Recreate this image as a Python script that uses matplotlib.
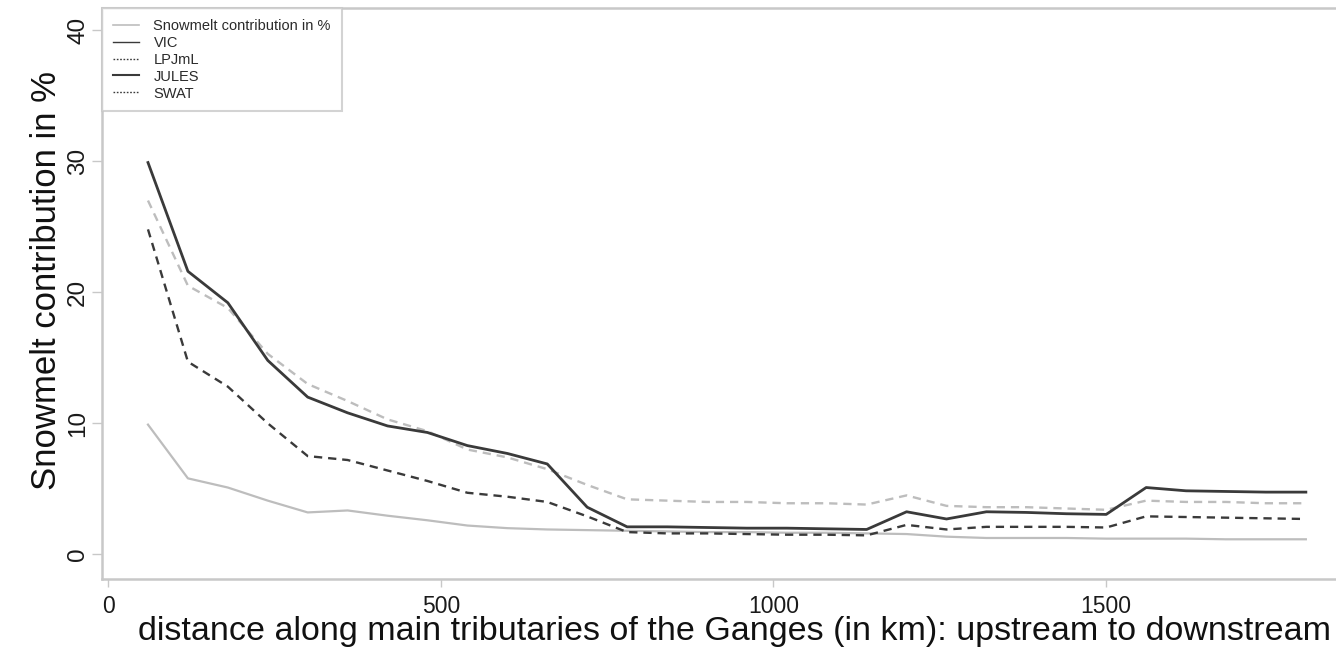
import matplotlib
matplotlib.use("Agg")
import matplotlib.pyplot as plt
from matplotlib.lines import Line2D

plt.rcParams['font.family'] = ['Liberation Sans', 'DejaVu Sans']

# distance along the main tributaries (km)
distance_km = [60, 120, 180, 240, 300, 360, 420, 480, 540, 600,
               660, 720, 780, 840, 900, 960, 1020, 1080, 1140, 1200,
               1260, 1320, 1380, 1440, 1500, 1560, 1620, 1680, 1740, 1800]

# snowmelt contribution (%) per model
vic = [9.9, 5.8, 5.1, 4.1, 3.2, 3.35, 2.95, 2.6, 2.2, 2.0,
       1.9, 1.85, 1.8, 1.75, 1.7, 1.7, 1.65, 1.65, 1.6, 1.55,
       1.35, 1.25, 1.25, 1.25, 1.2, 1.2, 1.2, 1.15, 1.15, 1.15]
lpjml = [24.8, 14.7, 12.8, 10.0, 7.5, 7.2, 6.4, 5.6, 4.7, 4.4,
         4.0, 2.9, 1.7, 1.6, 1.6, 1.55, 1.5, 1.5, 1.45, 2.25,
         1.9, 2.1, 2.1, 2.1, 2.05, 2.9, 2.85, 2.8, 2.75, 2.7]
jules = [29.9, 21.6, 19.2, 14.8, 12.0, 10.8, 9.8, 9.3, 8.3, 7.7,
         6.9, 3.6, 2.1, 2.1, 2.05, 2.0, 2.0, 1.95, 1.9, 3.25,
         2.7, 3.25, 3.2, 3.1, 3.05, 5.1, 4.85, 4.8, 4.75, 4.75]
swat = [27.0, 20.5, 18.8, 15.3, 13.0, 11.7, 10.3, 9.4, 8.0, 7.4,
        6.5, 5.3, 4.2, 4.1, 4.0, 4.0, 3.9, 3.9, 3.8, 4.5,
        3.7, 3.6, 3.6, 3.5, 3.4, 4.1, 4.0, 4.0, 3.9, 3.9]

legend_labels = ["Snowmelt contribution in %", "VIC", "LPJmL", "JULES", "SWAT"]
y_ticks = [0, 10, 20, 30, 40]
x_ticks = [0, 500, 1000, 1500]

dark = "#3a3a3a"
light = "#bdbdbd"
frame = "#c8c8c8"

fig = plt.figure(figsize=(13.36, 6.59), dpi=100)
ax = fig.add_axes([0.0761, 0.121, 0.936, 0.867])

ax.plot(distance_km, vic, color=light, lw=1.6, solid_joinstyle='round')
ax.plot(distance_km, lpjml, color=dark, lw=1.7, dashes=(3.5, 2.5))
ax.plot(distance_km, swat, color=light, lw=1.7, dashes=(3.5, 2.5))
ax.plot(distance_km, jules, color=dark, lw=2.0, solid_joinstyle='round')

ax.set_xlim(-9.6, 1869.6)
ax.set_ylim(-1.9, 41.7)

for s in ax.spines.values():
    s.set_color(frame)
    s.set_linewidth(1.8)

ax.set_xticks(x_ticks)
ax.set_xticklabels([str(v) for v in x_ticks])
ax.set_yticks(y_ticks)
ax.set_yticklabels([str(v) for v in y_ticks], rotation=90, va='center')
ax.tick_params(axis='x', length=6, width=1, color=frame, labelsize=16.5,
               labelcolor="#1a1a1a", pad=5)
ax.tick_params(axis='y', length=7, width=1, color=frame, labelsize=17.5,
               labelcolor="#1a1a1a", pad=2)

fig.text(0.55, 0.029, "distance along main tributaries of the Ganges (in km): upstream to downstream",
         ha='center', va='baseline', fontsize=24.5, color="#111111")
fig.text(0.035, 0.574, "Snowmelt contribution in %", rotation=90,
         ha='center', va='center', fontsize=25, color="#111111")

handles = [
    Line2D([], [], color=light, lw=1.2),
    Line2D([], [], color=dark, lw=1.0),
    Line2D([], [], color=dark, lw=1.0, dashes=(1.2, 1.2)),
    Line2D([], [], color=dark, lw=1.5),
    Line2D([], [], color=dark, lw=1.0, dashes=(1.2, 1.2)),
]
leg = ax.legend(handles, legend_labels, loc='upper left', borderaxespad=0,
                fontsize=10.5, frameon=True, fancybox=False, edgecolor=frame,
                handlelength=1.8, handletextpad=1.0, labelspacing=0.2,
                borderpad=0.75)
leg.get_frame().set_linewidth(1.5)
for t in leg.get_texts():
    t.set_color("#2a2a2a")

fig.savefig("out.png", dpi=100, facecolor="white")
